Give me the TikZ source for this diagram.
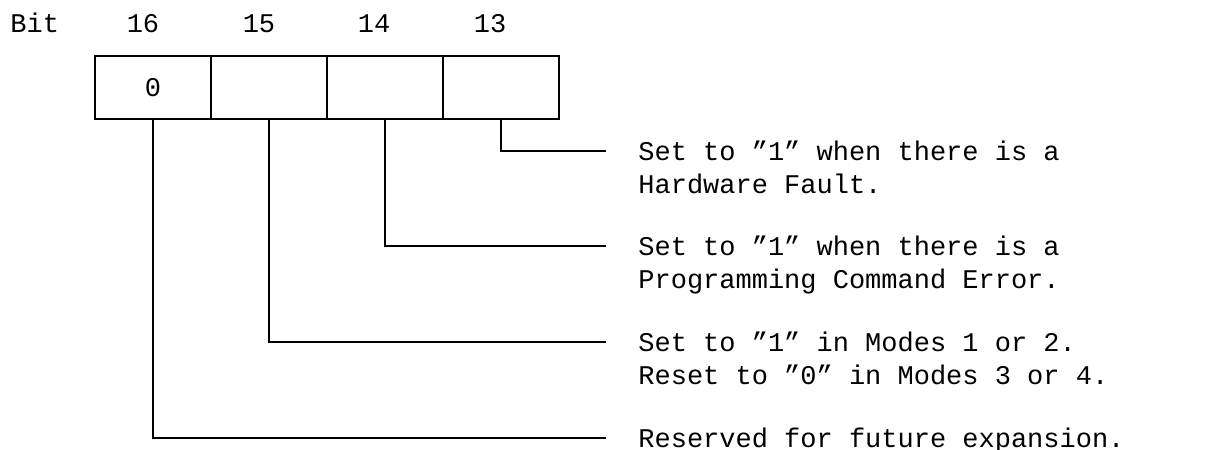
\documentclass[tikz,border=0pt]{standalone}
\usepackage{fontspec}
\setmainfont{Liberation Mono}
\newcommand{\dfont}{\fontsize{13.5}{16.5}\selectfont}
\newcommand{\qq}{\symbol{34}}
\begin{document}
\begin{tikzpicture}[x=0.5pt,y=-0.5pt,
  cell/.style={draw, line width=1.4pt, minimum width=58pt, minimum height=31.5pt,
    inner sep=0pt, outer sep=0pt, font=\dfont, anchor=north west},
  hdr/.style={font=\dfont, anchor=base, inner sep=0pt},
  desc/.style={font=\dfont, align=left, anchor=base west, inner sep=0pt},
  leader/.style={draw, line width=1.2pt}]
\useasboundingbox (0,0) rectangle (1217,450);
% header
\node[hdr, anchor=base west] (bit) at (10,32) {Bit};
\node[hdr] (h16) at (143,32) {16};
\node[hdr] (h15) at (259,32) {15};
\node[hdr] (h14) at (374,32) {14};
\node[hdr] (h13) at (490,32) {13};
% register cells
\node[cell] (c16) at (95,56) {0};
\node[cell] (c15) at (211,56) {};
\node[cell] (c14) at (327,56) {};
\node[cell] (c13) at (443,56) {};
% descriptions (base = baseline of last line)
\node[desc] (d13) at (638,193) {Set to \qq1\qq{} when there is a\\Hardware Fault.};
\node[desc] (d14) at (638,288) {Set to \qq1\qq{} when there is a\\Programming Command Error.};
\node[desc] (d15) at (638,384) {Set to \qq1\qq{} in Modes 1 or 2.\\Reset to \qq0\qq{} in Modes 3 or 4.};
\node[desc] (d16) at (638,447) {Reserved for future expansion.};
% leader end points
\coordinate (e13) at (606,151);
\coordinate (e14) at (606,246);
\coordinate (e15) at (606,342);
\coordinate (e16) at (606,438);
% leaders
\draw[leader] (c13.south) |- (e13);
\draw[leader] (c14.south) |- (e14);
\draw[leader] (c15.south) |- (e15);
\draw[leader] (c16.south) |- (e16);
\end{tikzpicture}
\end{document}
